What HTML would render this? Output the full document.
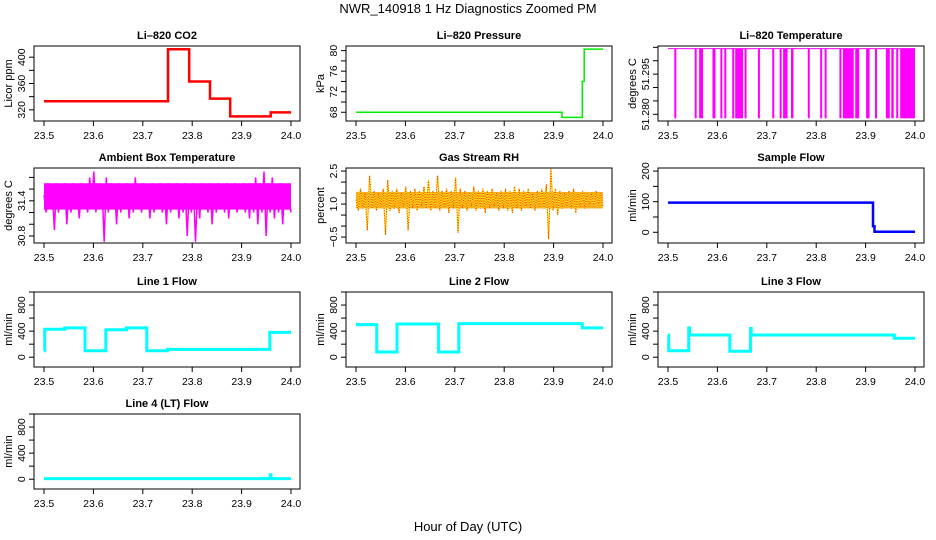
<!DOCTYPE html>
<html><head><meta charset="utf-8"><style>
body{margin:0;background:#fff;}
svg{display:block;font-family:"Liberation Sans",Arial,sans-serif;}
</style></head><body>
<svg id="c" width="936" height="540" viewBox="0 0 936 540" xmlns="http://www.w3.org/2000/svg">
<text x="468" y="13" text-anchor="middle" font-size="13">NWR_140918  1 Hz Diagnostics Zoomed PM</text>
<text x="468" y="531" text-anchor="middle" font-size="13">Hour of Day (UTC)</text>
</svg>
<script>
const xTicks = [23.5, 23.6, 23.7, 23.8, 23.9, 24.0];
const xTickLabels = ["23.5","23.6","23.7","23.8","23.9","24.0"];

// CO2 steps
const co2Times = [23.5, 23.751, 23.794, 23.836, 23.877, 23.959, 24.0];
const co2Values = [333, 412, 363, 337, 310, 316];
// Pressure steps
const presTimes = [23.5, 23.917, 23.958, 23.962, 23.965, 24.0];
const presValues = [68, 67, 74, 80.3, 80.3];
// Li-820 temperature: low intervals
const tempLowStart = [23.5128,23.554,23.563,23.590,23.606,23.614,23.630,23.636,23.655,23.682,23.711,23.726,23.733,23.749,23.783,23.808,23.817,23.847,23.854,23.879,23.901,23.919,23.941,23.952,23.962,23.970];
const tempLowEnd   = [23.5169,23.557,23.571,23.596,23.609,23.617,23.634,23.652,23.657,23.684,23.715,23.729,23.742,23.754,23.785,23.812,23.820,23.850,23.876,23.887,23.908,23.923,23.949,23.957,23.966,24.0];
const tempHigh = 51.3045, tempLow = 51.2785;
// Ambient box temperature (uniform samples)
const ambValues = [31.5,31.2,31.7,31.3,31.6,30.9,31.7,31.2,31.6,31.3,31.7,31.0,31.6,31.2,31.7,31.3,31.5,31.1,31.7,31.3,31.6,31.2,31.8,31.3,31.9,31.2,31.7,31.3,31.6,30.7,31.8,31.2,31.7,31.3,31.6,31.0,31.7,31.2,31.6,31.3,31.7,31.1,31.6,31.2,31.8,31.3,31.6,31.2,31.7,31.3,31.6,31.1,31.7,31.2,31.6,31.3,31.7,31.2,31.6,31.0,31.7,31.2,31.6,31.3,31.7,31.1,31.6,31.2,31.7,30.8,31.6,31.2,31.7,30.7,31.6,31.1,31.7,31.3,31.6,31.2,31.7,31.0,31.6,31.2,31.7,31.3,31.6,31.2,31.7,31.1,31.6,31.3,31.7,31.2,31.6,31.3,31.7,31.2,31.6,31.1,31.7,31.2,31.8,31.0,31.7,31.2,31.9,30.8,31.7,31.2,31.8,31.1,31.6,31.2,31.7,31.0,31.6,31.3,31.5,31.2];
// Gas stream RH (uniform samples)
const rhValues = [1.2,0.7,1.7,0.8,1.5,-0.2,2.3,0.8,1.6,0.7,1.5,0.9,1.7,-0.4,2.1,0.7,1.6,0.8,1.7,0.6,1.5,0.9,1.8,-0.2,1.6,0.8,1.7,0.7,1.6,0.9,1.8,0.8,2.1,0.7,1.6,0.8,2.3,0.7,1.6,0.9,1.7,0.6,1.6,0.8,2.2,-0.3,1.7,0.8,1.6,0.7,1.5,0.9,1.8,0.7,1.6,0.8,1.7,0.6,1.6,0.8,1.7,0.9,1.5,0.7,1.6,0.8,1.7,0.7,1.6,0.6,1.8,0.8,1.7,0.7,1.6,0.9,1.7,0.8,1.5,0.7,1.6,0.9,1.7,0.8,1.9,-0.6,2.6,0.7,1.7,0.5,1.6,0.8,1.5,0.9,1.6,0.8,1.7,0.6,1.5,0.9,1.6,0.8,1.4,1.0,1.5,0.9,1.6,1.0,1.5,0.9];
// Sample flow steps
const sfTimes = [23.5, 23.915, 23.918, 24.0];
const sfValues = [97, 20, 2];
// Line flows steps
const l1Times = [23.5, 23.5015, 23.542, 23.583, 23.625, 23.667, 23.708, 23.75, 23.957, 24.0];
const l1Values = [100, 430, 450, 100, 420, 450, 100, 120, 380];
const l2Times = [23.5, 23.542, 23.583, 23.667, 23.708, 23.958, 24.0];
const l2Values = [500, 80, 510, 80, 515, 450];
const l3Times = [23.5, 23.5015, 23.542, 23.5435, 23.625, 23.667, 23.6685, 23.958, 24.0];
const l3Values = [340, 100, 450, 340, 90, 440, 340, 290];
const l4Times = [23.5, 23.958, 23.9595, 23.961, 24.0];
const l4Values = [10, 70, 10, 10];

const svg = document.getElementById('c');
const NS = 'http://www.w3.org/2000/svg';
function mk(tag, attrs, parent){const e=document.createElementNS(NS,tag);for(const k in attrs)e.setAttribute(k,attrs[k]);(parent||svg).appendChild(e);return e;}

const colLeft=[34,346,658], rowTop=[46,168,292,414], W=266, H=75;

function panel(slug,title,ylab,col,row,ylim,yticks,ylabels){
  const L=colLeft[col],T=rowTop[row],B=T+H;
  const g=mk('g',{});
  
  
  const xs=v=>L+10+(v-23.5)/0.5*247;
  const ys=v=>B-(v-ylim[0])/(ylim[1]-ylim[0])*H;
  const t=mk('text',{x:L+W/2,y:T-7,'text-anchor':'middle','font-size':11,'font-weight':'bold'},g);t.textContent=title;
  
  
  const yl=mk('text',{x:0,y:0,'text-anchor':'middle','font-size':11,transform:`translate(${L-22},${T+H/2}) rotate(-90)`},g);yl.textContent=ylab;
  
  
  mk('line',{x1:xs(xTicks[0]),x2:xs(xTicks[xTicks.length-1]),y1:B,y2:B,stroke:'#000'},g);
  xTicks.forEach((v,i)=>{
    mk('line',{x1:xs(v),x2:xs(v),y1:B,y2:B+5,stroke:'#000'},g);
    const tx=mk('text',{x:xs(v),y:B+18,'text-anchor':'middle','font-size':10.5},g);tx.textContent=xTickLabels[i];
    
    
  });
  yticks.forEach((v,i)=>{
    mk('line',{x1:L-5,x2:L,y1:ys(v),y2:ys(v),stroke:'#000'},g);
    if(ylabels[i]){const tx=mk('text',{x:0,y:0,'text-anchor':'middle','font-size':10.5,transform:`translate(${L-9},${ys(v)}) rotate(-90)`},g);tx.textContent=ylabels[i];
      
      }
  });
  return {g,xs,ys,L,T,B};
}
function stepPath(p,times,vals,color,w,slug){
  let d='';
  for(let i=0;i<vals.length;i++){
    d+=(i?'L':'M')+p.xs(times[i]).toFixed(1)+','+p.ys(vals[i]).toFixed(1)+'L'+p.xs(times[i+1]).toFixed(1)+','+p.ys(vals[i]).toFixed(1);
  }
  const e=mk('path',{d:d,fill:'none',stroke:color,'stroke-width':w},p.g);
  
  
}
function seriesPath(p,vals,color,w,slug){
  let d='';
  vals.forEach((v,i)=>{const t=23.5+0.5*i/(vals.length-1);d+=(i?'L':'M')+p.xs(t).toFixed(1)+','+p.ys(v).toFixed(1);});
  const e=mk('path',{d:d,fill:'none',stroke:color,'stroke-width':w},p.g);
  
  
  return e;
}
function box(p){mk('rect',{x:p.L,y:p.T,width:W,height:H,fill:'none',stroke:'#000'},p.g);}

let p=panel('co2','Li\u2013820 CO2','Licor ppm',0,0,[303,417],[320,340,360,380,400],['320','','360','','400']);
stepPath(p,co2Times,co2Values,'#ff0000',2.5,'co2-line');box(p);
p=panel('pressure','Li\u2013820 Pressure','kPa',1,0,[66.3,80.9],[68,70,72,74,76,78,80],['68','','72','','76','','80']);
stepPath(p,presTimes,presValues,'#00ee00',1.5,'pressure-line');box(p);
p=panel('li820-temp','Li\u2013820 Temperature','degrees C',2,0,[51.2775,51.3055],[51.280,51.285,51.290,51.295,51.300,51.305],['51.280','','','51.295','','']);
mk('line',{x1:p.xs(23.5),x2:p.xs(24),y1:p.ys(tempHigh),y2:p.ys(tempHigh),stroke:'#ff00ff'},p.g);
tempLowStart.forEach((s,i)=>{
  const r=mk('rect',{x:p.xs(s),y:p.ys(tempHigh),width:Math.max(2,p.xs(tempLowEnd[i])-p.xs(s)),height:p.ys(tempLow)-p.ys(tempHigh),fill:'#ff00ff'},p.g);
  
  
});
box(p);
p=panel('ambient-temp','Ambient Box Temperature','degrees C',0,1,[30.68,31.96],[30.8,31.0,31.2,31.4,31.6,31.8],['30.8','','','31.4','','']);
mk('rect',{x:p.xs(23.5),y:p.ys(31.7),width:247,height:p.ys(31.25)-p.ys(31.7),fill:'#ff00ff'},p.g);
seriesPath(p,ambValues,'#ff00ff',1.5,'ambient-temp-line');box(p);
p=panel('rh','Gas Stream RH','percent',1,1,[-0.77,2.64],[-0.5,0,0.5,1.0,1.5,2.0,2.5],['\u22120.5','','','1.0','','','2.5']);
mk('rect',{x:p.xs(23.5),y:p.ys(1.55),width:247,height:p.ys(0.8)-p.ys(1.55),fill:'#f4b020'},p.g);
seriesPath(p,rhValues,'#ffee00',1.2,'rh-line');
const rp=seriesPath(p,rhValues,'#ff2000',1,'rh-points');rp.setAttribute('stroke-dasharray','1 1.5');
box(p);
p=panel('sample-flow','Sample Flow','ml/min',2,1,[-35,210],[0,50,100,150,200],['0','','100','','200']);
stepPath(p,sfTimes,sfValues,'#0000ff',2.5,'sample-flow-line');box(p);
const fl=[-150,1000],ft=[0,200,400,600,800,1000],fll=['0','','400','','800',''];
p=panel('line1','Line 1 Flow','ml/min',0,2,fl,ft,fll);stepPath(p,l1Times,l1Values,'#00ffff',3,'line1-flow-line');box(p);
p=panel('line2','Line 2 Flow','ml/min',1,2,fl,ft,fll);stepPath(p,l2Times,l2Values,'#00ffff',3,'line2-flow-line');box(p);
p=panel('line3','Line 3 Flow','ml/min',2,2,fl,ft,fll);stepPath(p,l3Times,l3Values,'#00ffff',3,'line3-flow-line');box(p);
p=panel('line4','Line 4 (LT) Flow','ml/min',0,3,fl,ft,fll);stepPath(p,l4Times,l4Values,'#00ffff',3,'line4-flow-line');box(p);
</script>
</body></html>
